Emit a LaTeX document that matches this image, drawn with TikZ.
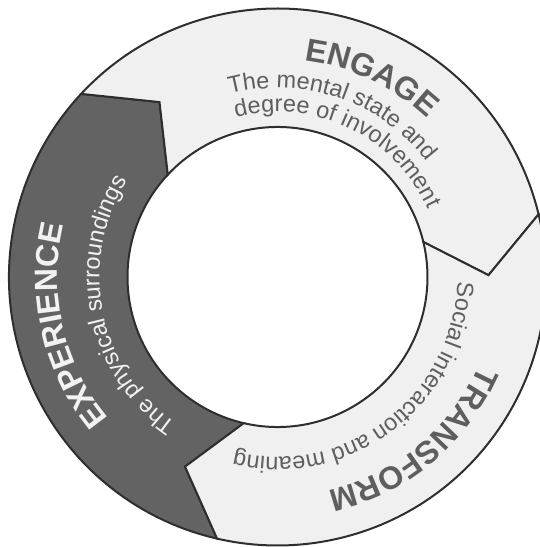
\documentclass[tikz,border=0pt]{standalone}
\usepackage{fontspec}
\setmainfont{Liberation Sans}
\setsansfont{Liberation Sans}
\usetikzlibrary{decorations.text}
\definecolor{lightseg}{HTML}{F0F0F0}
\definecolor{darkseg}{HTML}{636363}
\definecolor{edgecol}{HTML}{2E2E2E}
\definecolor{greytext}{HTML}{5E5E5E}
\definecolor{whitetext}{HTML}{F2F2F2}
\begin{document}
\begin{tikzpicture}[x=1pt,y=1pt,
  segment/.style={draw=edgecol, line width=2pt, line join=miter},
  lightpart/.style={segment, fill=lightseg},
  darkpart/.style={segment, fill=darkseg},
  arctext/.style={decorate, decoration={text along path, text align=left, text color=#1}}]
\useasboundingbox (-277.5,-270) rectangle (262.5,277);
\clip (-277.5,-270) rectangle (262.5,277);
\def\Ro{268.5}
\def\Ri{150}
\def\Rt{211}
% EXPERIENCE segment (dark)
\path[darkpart] (257:\Ro) arc[start angle=257,end angle=137,radius=\Ro] -- (124:\Rt) -- (137:\Ri)
  arc[start angle=137,end angle=257,radius=\Ri] -- (244:\Rt) -- cycle;
% ENGAGE segment
\path[lightpart] (137:\Ro) arc[start angle=137,end angle=13.5,radius=\Ro] -- (0.5:\Rt) -- (13.5:\Ri)
  arc[start angle=13.5,end angle=137,radius=\Ri] -- (124:\Rt) -- cycle;
% TRANSFORM segment
\path[lightpart] (13.5:\Ro) arc[start angle=13.5,end angle=-103,radius=\Ro] -- (-116:\Rt) -- (-103:\Ri)
  arc[start angle=-103,end angle=13.5,radius=\Ri] -- (0.5:\Rt) -- cycle;
% ENGAGE texts
\path[arctext=greytext, decoration={text={|\fontsize{32}{32}\selectfont\bfseries|ENGAGE}}]
  (83:218) arc[start angle=83,end angle=-30,radius=218];
\path[arctext=greytext, decoration={text={|\fontsize{23.5}{23.5}\selectfont|The mental state and}}]
  (104.6:189) arc[start angle=104.6,end angle=-20,radius=189];
\path[arctext=greytext, decoration={text={|\fontsize{23.5}{23.5}\selectfont|degree of involvement}}]
  (104.6:165) arc[start angle=104.6,end angle=-40,radius=165];
% EXPERIENCE texts
\path[arctext=whitetext, decoration={text={|\fontsize{32}{32}\selectfont\bfseries|EXPERIENCE}}]
  (220:220) arc[start angle=220,end angle=120,radius=220];
\path[arctext=whitetext, decoration={text={|\fontsize{23.5}{23.5}\selectfont|The physical surroundings}}]
  (235.5:178) arc[start angle=235.5,end angle=110,radius=178];
% TRANSFORM texts
\path[arctext=greytext, decoration={text={|\fontsize{32}{32}\selectfont\bfseries|TRANSFORM}}]
  (-23.6:220) arc[start angle=-23.6,end angle=-120,radius=220];
\path[arctext=greytext, decoration={text={|\fontsize{23.5}{23.5}\selectfont|Social interaction and meaning}}]
  (-1.5:180) arc[start angle=-1.5,end angle=-140,radius=180];
\end{tikzpicture}
\end{document}
